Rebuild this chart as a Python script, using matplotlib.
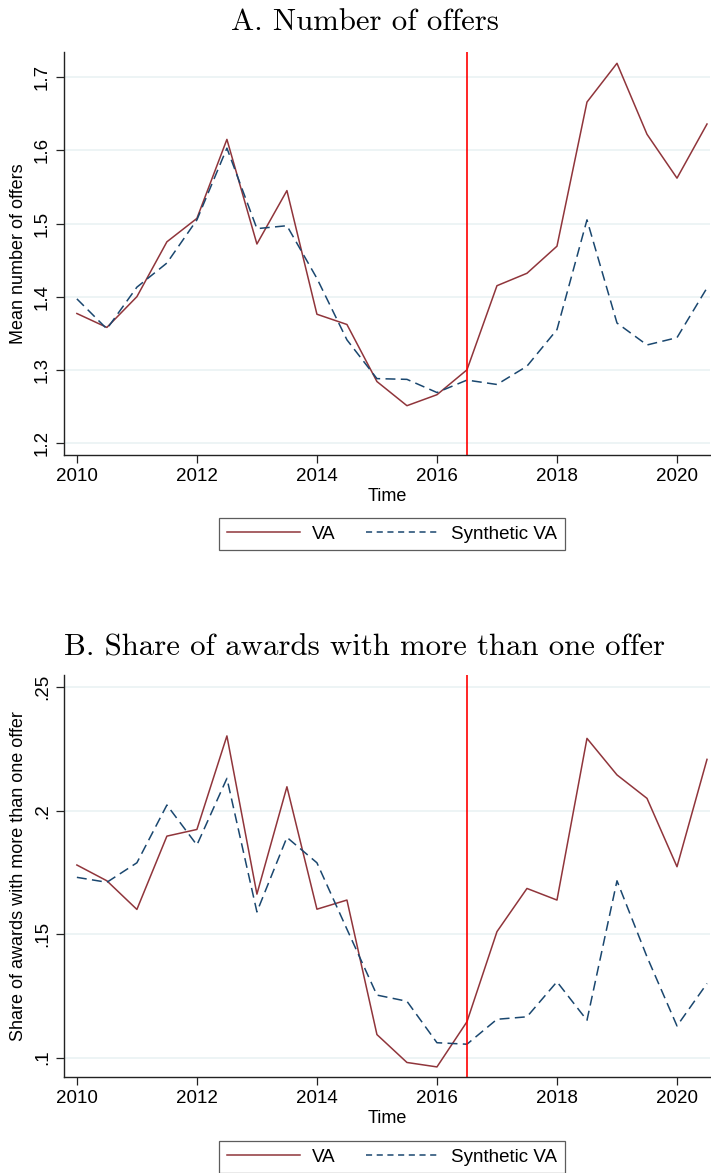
import matplotlib
matplotlib.use("Agg")
import matplotlib.pyplot as plt
from matplotlib.lines import Line2D

plt.rcParams['font.family'] = ['Liberation Sans', 'DejaVu Sans']

# half-year periods 2010 - 2020.5
periods = [2010 + 0.5 * i for i in range(22)]

offers_va = [1.377, 1.358, 1.400, 1.475, 1.507, 1.615, 1.472, 1.545, 1.376, 1.362,
             1.284, 1.251, 1.266, 1.300, 1.415, 1.432, 1.469, 1.666, 1.719, 1.622,
             1.562, 1.636]
offers_synth = [1.397, 1.356, 1.413, 1.446, 1.505, 1.603, 1.493, 1.497, 1.425, 1.341,
                1.288, 1.287, 1.269, 1.286, 1.280, 1.305, 1.355, 1.505, 1.364, 1.334,
                1.344, 1.412]

share_va = [0.178, 0.1716, 0.160, 0.1897, 0.1924, 0.2303, 0.1662, 0.2097, 0.1601, 0.1638,
            0.1093, 0.098, 0.0962, 0.1145, 0.151, 0.1685, 0.1638, 0.2293, 0.2145, 0.205,
            0.1773, 0.2208]
share_synth = [0.173, 0.171, 0.1789, 0.2023, 0.1861, 0.2131, 0.159, 0.1892, 0.1789, 0.152,
               0.1253, 0.1228, 0.106, 0.1054, 0.1155, 0.1165, 0.1307, 0.1151, 0.1716, 0.1408,
               0.1128, 0.130]

treatment_date = 2016.5
x_ticks = [2010, 2012, 2014, 2016, 2018, 2020]
offers_ticks = [1.2, 1.3, 1.4, 1.5, 1.6, 1.7]
offers_ticklabels = ['1.2', '1.3', '1.4', '1.5', '1.6', '1.7']
share_ticks = [0.10, 0.15, 0.20, 0.25]
share_ticklabels = ['.1', '.15', '.2', '.25']

VA_COLOR = '#90353b'
SYNTH_COLOR = '#1a476f'
GRID_COLOR = '#eaf2f3'
FS = 13.5


def plot_panel(ax, va, synth, yticks, yticklabels, ylim, ylabel):
    """Stata-like synthetic control panel."""
    ax.plot(periods, va, color=VA_COLOR, lw=1.1, label='VA')
    ax.plot(periods, synth, color=SYNTH_COLOR, lw=1.1, dashes=(6.5, 3.5),
            label='Synthetic VA')
    ax.axvline(treatment_date, color='#ff0000', lw=1.2)

    ax.set_xlim(2009.79, 2020.55)
    ax.set_ylim(*ylim)
    ax.set_xticks(x_ticks)
    ax.set_yticks(yticks)
    ax.set_yticklabels(yticklabels, rotation=90, va='center')
    ax.grid(axis='y', color=GRID_COLOR, lw=1.2)
    ax.set_axisbelow(True)

    for side in ['top', 'right']:
        ax.spines[side].set_visible(False)
    for side in ['left', 'bottom']:
        ax.spines[side].set_color('#222222')
        ax.spines[side].set_linewidth(1.0)
    ax.tick_params(direction='out', length=6, width=0.9, color='#222222',
                   labelsize=FS, pad=3.5)
    ax.set_xlabel('Time', fontsize=FS - 0.5, labelpad=2)
    ax.set_ylabel(ylabel, fontsize=FS - 0.5, labelpad=5)


fig = plt.figure(figsize=(7.11, 11.73), dpi=100)
ax_top = fig.add_axes([0.0904, 0.6121, 0.9082, 0.3433])
ax_bot = fig.add_axes([0.0904, 0.0816, 0.9082, 0.3430])

plot_panel(ax_top, offers_va, offers_synth, offers_ticks, offers_ticklabels,
           (1.1836, 1.734), 'Mean number of offers')
plot_panel(ax_bot, share_va, share_synth, share_ticks, share_ticklabels,
           (0.092, 0.255), 'Share of awards with more than one offer')

fig.text(365 / 711, 1 - 30 / 1173, 'A. Number of offers', family='cmr10',
         fontsize=22.2, ha='center', va='baseline')
fig.text(365 / 711, 1 - 656 / 1173, 'B. Share of awards with more than one offer',
         family='cmr10', fontsize=22.2, ha='center', va='baseline')

handles = [Line2D([], [], color=VA_COLOR, lw=1.1),
           Line2D([], [], color=SYNTH_COLOR, lw=1.1, dashes=(4, 3))]
for ycen in [1 - 534 / 1173, 1 - 1157 / 1173]:
    leg = fig.legend(handles, ['VA', 'Synthetic VA'], loc='center',
                     bbox_to_anchor=(392 / 711, ycen), ncol=2, fontsize=FS,
                     frameon=True, fancybox=False, edgecolor='#333333',
                     handlelength=3.9, handletextpad=0.65, columnspacing=1.6,
                     borderpad=0.42, borderaxespad=0)
    leg.get_frame().set_linewidth(0.9)

fig.savefig('out.png', dpi=100)
